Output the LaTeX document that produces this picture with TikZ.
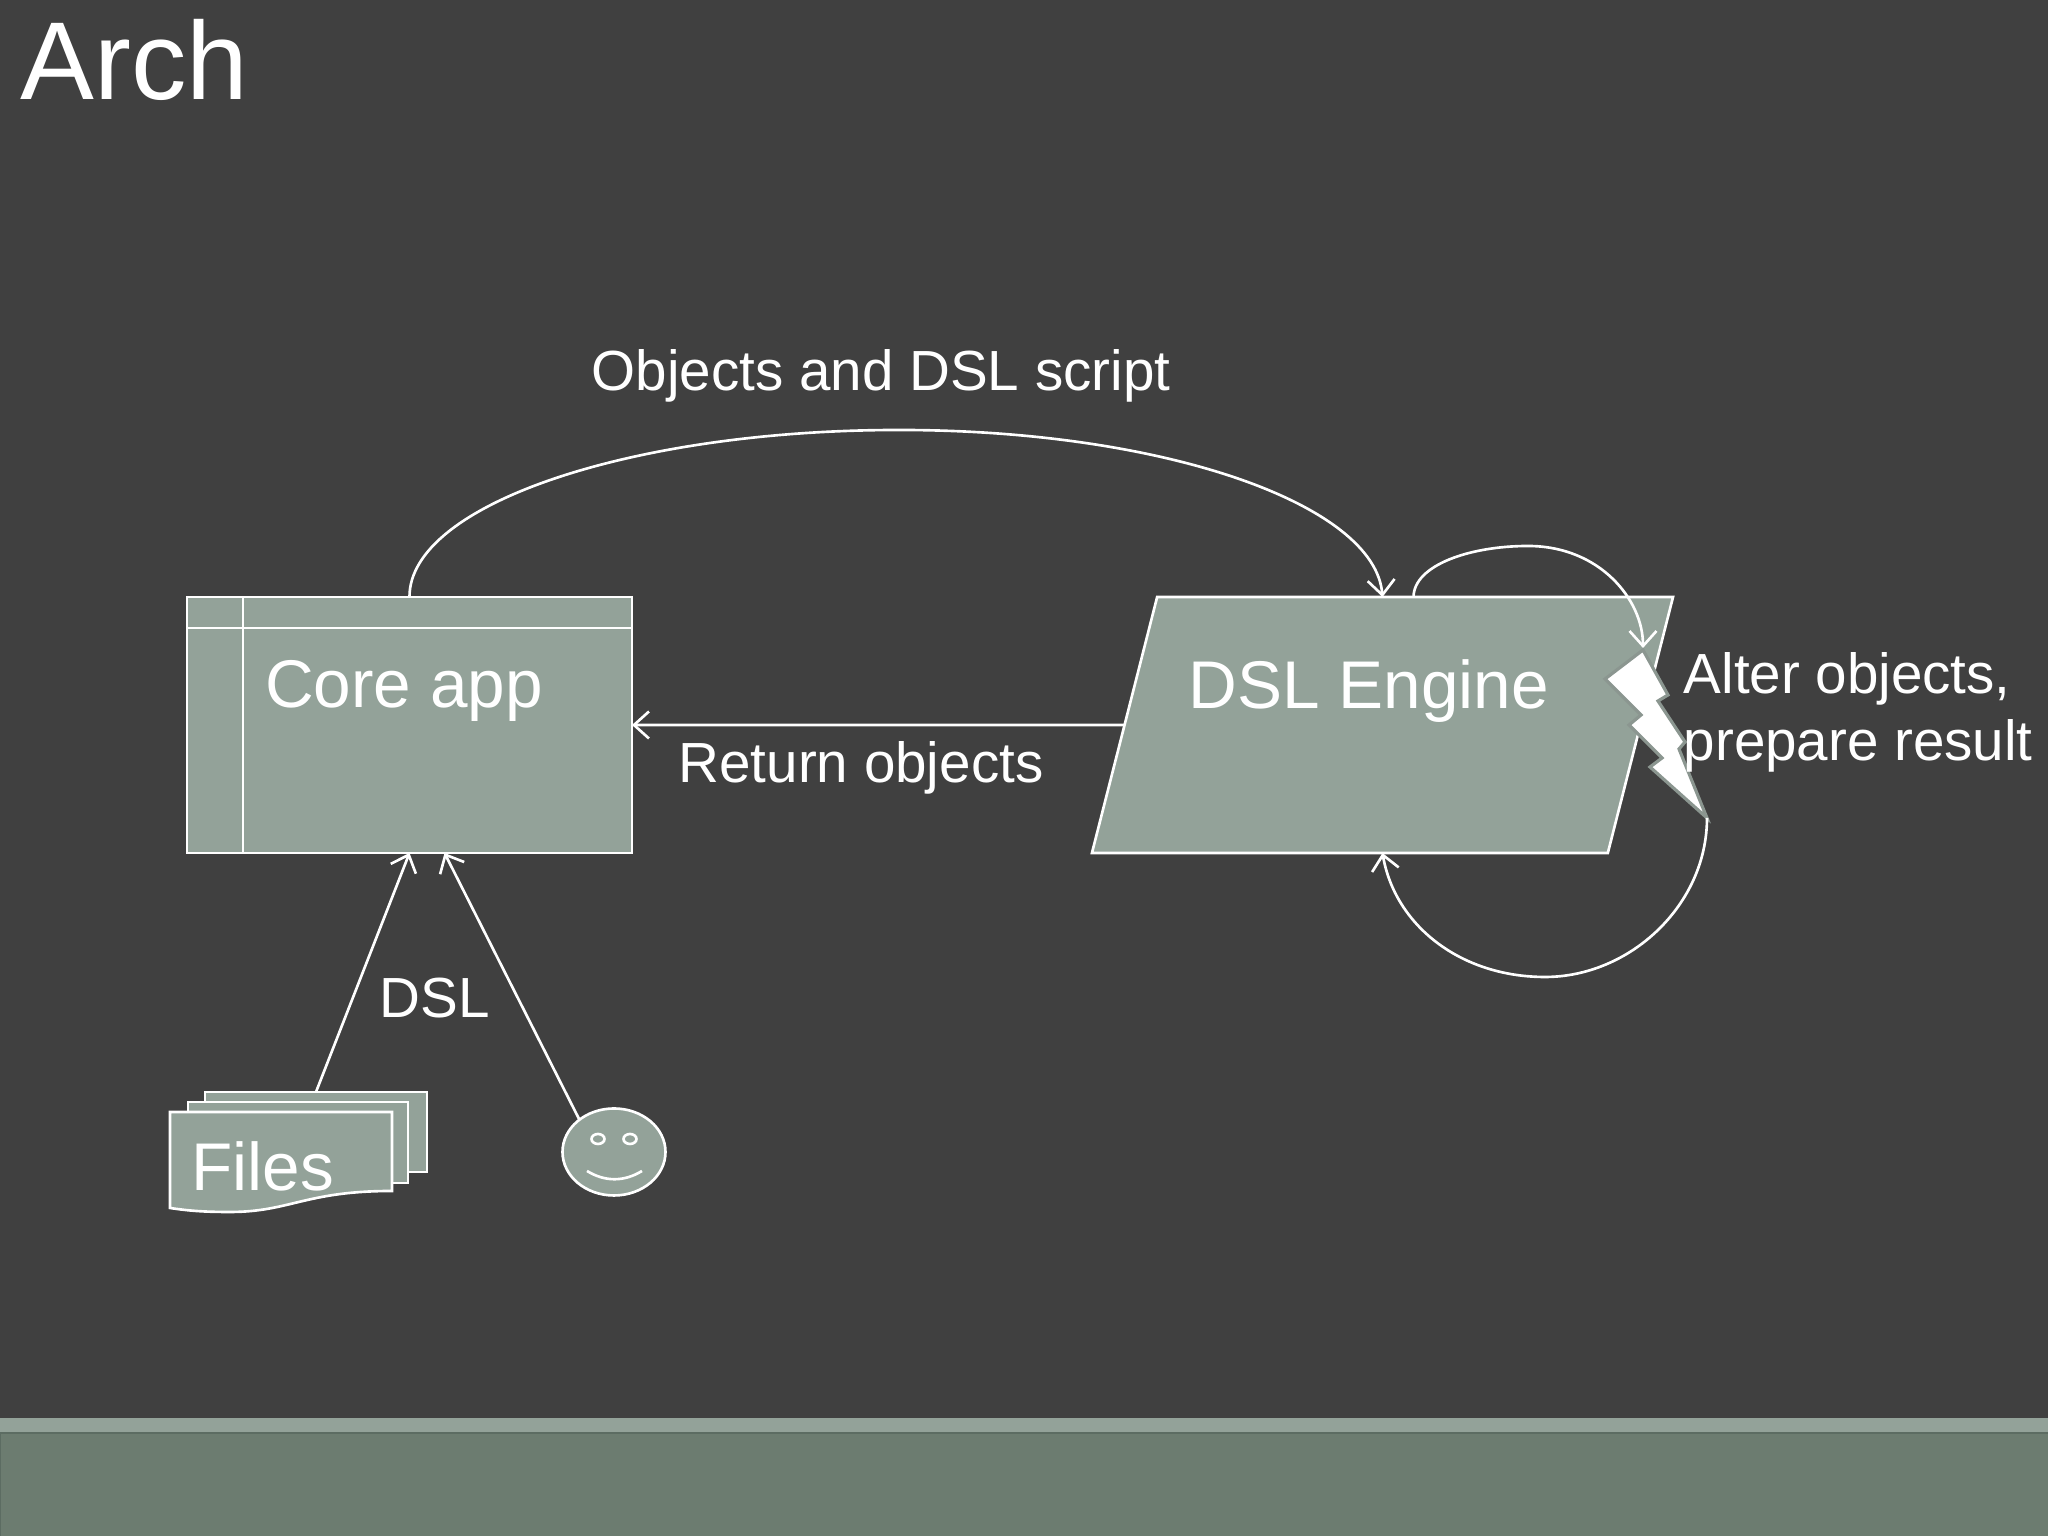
\documentclass[tikz,border=0pt]{standalone}
\usepackage{fontspec}
\setmainfont{Liberation Sans}
\usepackage{xcolor}
\definecolor{slide}{HTML}{404040}
\definecolor{sage}{HTML}{93A299}
\definecolor{panel}{HTML}{6C7C70}
\definecolor{panelline}{HTML}{5C6C62}
\definecolor{boltline}{HTML}{8B9690}
\usetikzlibrary{arrows.meta}
\usetikzlibrary{shapes}
\tikzset{box/.style={draw=white, fill=sage, line width=.75pt, inner sep=0, outer sep=0},
 link/.style={draw=white, line width=.75pt, -{Straight Barb[length=.15cm,width=.27cm]}},
 lbl/.style={text=white, anchor=base, inner sep=0},
 big/.style={font=\fontsize{19.2}{23}\selectfont},
 mid/.style={font=\fontsize{16.1}{19.3}\selectfont},
 }

\begin{document}
\begin{tikzpicture}
        \useasboundingbox (0, 0) rectangle (20.48, 15.36);
        \fill[slide] (0, 0) rectangle (20.48, 15.36);
        \fill[sage] (0, 1.03) rectangle (20.48, 1.18);
        \draw[panelline, fill=panel, line width=.5pt] (0, -.1) rectangle (20.6, 1.03);

        \node[lbl, anchor=base west, font=\fontsize{31.5}{36}\selectfont] (title) at (.2, 14.36) {Arch};

        \node[box, minimum width=4.45cm, minimum height=2.56cm] (core) at (4.095, 8.11) {};
        \draw[white, line width=.75pt] ([xshift=.56cm]core.north west) -- ([xshift=.56cm]core.south west);
        \draw[white, line width=.75pt] ([yshift=-.31cm]core.north west) -- ([yshift=-.31cm]core.north east);
        \node[lbl, big] (corelabel) at (4.04, 8.28) {Core app};

        \node[box, shape=trapezium, trapezium left angle=82.2, trapezium right angle=97.8,
            trapezium stretches=true, minimum width=5.81cm, minimum height=2.56cm] (engine) at (13.825, 8.11) {\phantom{x}};
        \node[lbl, big] (enginelabel) at (13.69, 8.27) {DSL Engine};

        \coordinate (bolttop) at (16.43, 8.86);
        \coordinate (bolttip) at (17.07, 7.18);
        \draw[boltline, fill=white, line width=.9pt, line join=miter] (bolttop) -- (16.05, 8.57) -- (16.41, 8.21)
            -- (16.29, 8.11) -- (16.62, 7.78) -- (16.50, 7.69) -- (bolttip) -- (16.79, 7.87) -- (16.85, 7.94)
            -- (16.58, 8.35) -- (16.68, 8.41) -- cycle;

        \draw[link] (core.north) .. controls (4.09, 10.31) and (6.30, 11.06) .. (8.99, 11.06)
            .. controls (11.66, 11.06) and (13.75, 10.31) .. (engine.north);
        \draw[link] (engine.west) -- (core.east);
        \draw[link, shorten >=.02cm] ([xshift=.31cm]engine.north) .. controls (14.14, 9.71) and (14.70, 9.90) .. (15.28, 9.90)
            .. controls (16.00, 9.90) and (16.43, 9.36) .. (bolttop);
        \draw[link] (bolttip) .. controls (17.07, 6.31) and (16.30, 5.59) .. (15.45, 5.59)
            .. controls (14.60, 5.59) and (13.95, 6.11) .. (engine.south);

        \node[lbl, mid] (scriptlabel) at (8.81, 11.45) {Objects and DSL script};
        \node[lbl, mid] (returnlabel) at (8.61, 7.53) {Return objects};
        \node[lbl, mid] (dsllabel) at (4.35, 5.18) {DSL};
        \node[lbl, mid, anchor=base west, align=left] (alterlabel) at (16.83, 7.75) {Alter objects,\\prepare result};

        \node[box, minimum width=2.22cm, minimum height=.80cm] (filesback) at (3.16, 4.04) {};
        \node[box, minimum width=2.20cm, minimum height=.81cm] (filesmid) at (2.98, 3.935) {};
        \draw[draw=white, fill=sage, line width=.75pt] (1.70, 4.24) -- (3.92, 4.24) -- (3.92, 3.45)
            .. controls (3.05, 3.45) and (2.90, 3.24) .. (2.30, 3.24)
            .. controls (2.05, 3.24) and (1.90, 3.25) .. (1.70, 3.28) -- cycle;
        \node[lbl, big] (fileslabel) at (2.63, 3.45) {Files};

        \node[box, shape=ellipse, minimum width=1.03cm, minimum height=.87cm] (smiley) at (6.14, 3.84) {};
        \draw[white, line width=.75pt] (5.98, 3.97) ellipse (.065 and .05);
        \draw[white, line width=.75pt] (6.30, 3.97) ellipse (.065 and .05);
        \draw[white, line width=.75pt] (5.87, 3.65) .. controls (6.05, 3.54) and (6.24, 3.54) .. (6.42, 3.65);

        \draw[link] (filesback.north) -- (core.south);
        \draw[link] (smiley.137) -- ([xshift=.35cm]core.south);
    \end{tikzpicture}
\end{document}
